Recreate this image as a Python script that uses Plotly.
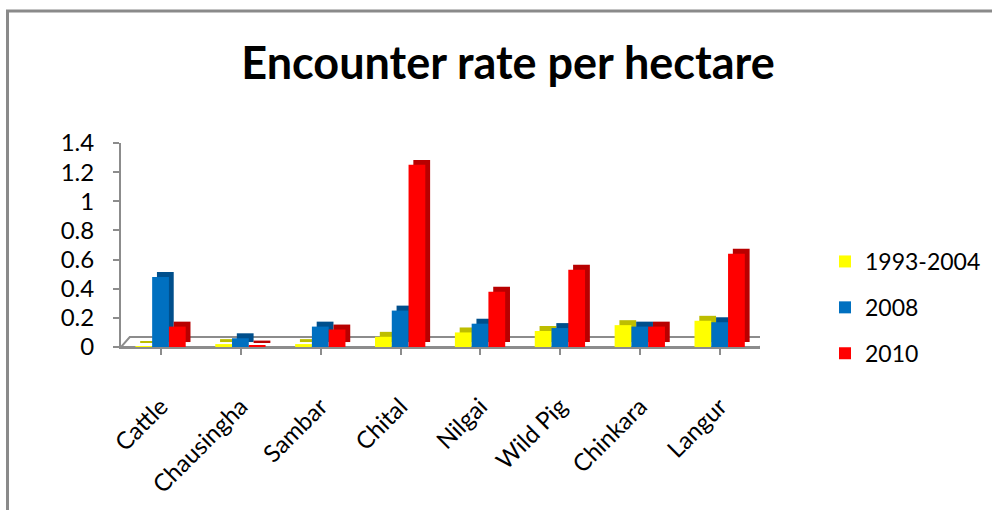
import plotly.graph_objects as go

categories = ["Cattle", "Chausingha", "Sambar", "Chital", "Nilgai", "Wild Pig", "Chinkara", "Langur"]
series_names = ["1993-2004", "2008", "2010"]
vals_1993_2004 = [0.005, 0.02, 0.02, 0.07, 0.10, 0.11, 0.15, 0.18]
vals_2008 = [0.48, 0.06, 0.14, 0.25, 0.16, 0.13, 0.14, 0.17]
vals_2010 = [0.14, 0.01, 0.12, 1.25, 0.38, 0.53, 0.14, 0.64]
y_ticks = [0, 0.2, 0.4, 0.6, 0.8, 1, 1.2, 1.4]
y_tick_labels = ["0", "0.2", "0.4", "0.6", "0.8", "1", "1.2", "1.4"]

series_vals = [vals_1993_2004, vals_2008, vals_2010]
face_colors = ["#FFFF00", "#0070C0", "#FF0000"]
side_colors = ["#BDBD00", "#004F8C", "#B80000"]
offsets = [-0.32, -0.11, 0.10]
bar_w = 0.21
depth_x = 0.06
depth_y = 0.034

W, H = 992, 510
L, R, T, B = 121, 232, 143, 163
pw, ph = W - L - R, H - T - B

def px_x(p):
    return (p - L) / pw

def px_y(p):
    return (H - B - p) / ph

xs = list(range(len(categories)))
fig = go.Figure()
for i in range(3):
    fig.add_trace(go.Bar(
        x=xs, y=series_vals[i], base=depth_y, offset=offsets[i] + depth_x, width=bar_w,
        marker=dict(color=side_colors[i], line=dict(width=0)),
        showlegend=False, hoverinfo="skip"))
    fig.add_trace(go.Bar(
        x=xs, y=series_vals[i], name=series_names[i], offset=offsets[i], width=bar_w,
        marker=dict(color=face_colors[i], line=dict(width=0)),
        legendgroup=series_names[i]))

axis_col = "#8C8C8C"
# floor of the pseudo-3D plot
fig.add_shape(type="path", xref="x", yref="y",
              path=f"M -0.5,0 L 7.5,0 L {7.5+0.11},0.068 L {-0.5+0.11},0.068 Z",
              line=dict(color=axis_col, width=2), fillcolor="white", layer="below")
# outer chart border
fig.add_shape(type="rect", xref="paper", yref="paper",
              x0=px_x(7.5), x1=px_x(1010), y0=px_y(530), y1=px_y(11),
              line=dict(color="#8A8A8A", width=3), fillcolor="rgba(0,0,0,0)")

fig.update_layout(
    width=W, height=H,
    margin=dict(l=L, r=R, t=T, b=B, autoexpand=False),
    barmode="overlay",
    plot_bgcolor="white", paper_bgcolor="white",
    font=dict(family="Lato", color="black", size=24),
    title=dict(text="<b>Encounter rate per hectare</b>", x=508 / W, xref="container",
               xanchor="center", y=1 - 63 / H, yref="container", yanchor="middle",
               font=dict(family="Lato", size=45, color="black")),
    xaxis=dict(tickmode="array", tickvals=xs, ticktext=categories, range=[-0.5, 7.5],
               tickangle=-45, showline=True, linecolor=axis_col, linewidth=2,
               ticks="outside", ticklen=6, tickcolor=axis_col, tickwidth=2,
               tickson="boundaries", showgrid=False, zeroline=False, automargin=False,
               ticklabelstandoff=28, tickfont=dict(size=24)),
    yaxis=dict(range=[0, 1.4], tickvals=y_ticks, ticktext=y_tick_labels,
               showline=True, linecolor=axis_col, linewidth=2,
               ticks="outside", ticklen=6, tickcolor=axis_col, tickwidth=2,
               showgrid=False, zeroline=False, ticklabelstandoff=14, automargin=False,
               tickfont=dict(size=24)),
    legend=dict(x=px_x(825), xanchor="left", y=px_y(240), yanchor="top",
                tracegroupgap=13, font=dict(size=23), bgcolor="rgba(0,0,0,0)"),
    showlegend=True,
)

fig.write_html("out.html")
